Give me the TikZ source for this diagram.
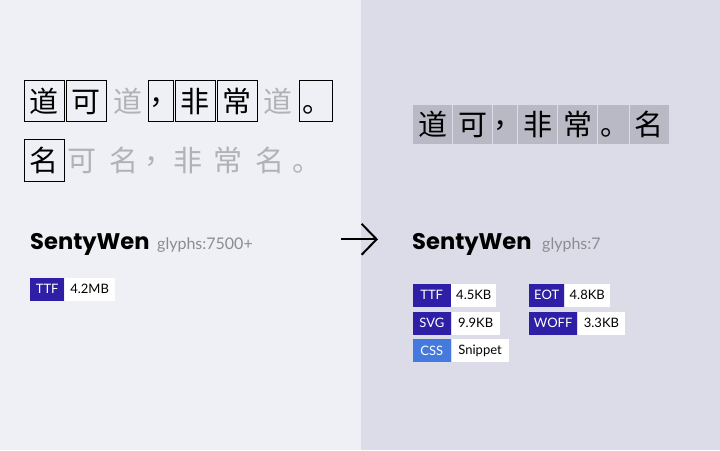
\documentclass[tikz,border=0pt]{standalone}
\usepackage{fontspec}
\setmainfont{Lato}
\newfontfamily\titlefont{Poppins}
\newfontfamily\cjk{Noto Sans CJK SC}
\usetikzlibrary{arrows.meta}
\definecolor{bgL}{HTML}{EFF0F5}
\definecolor{bgR}{HTML}{DCDCE8}
\definecolor{indigo}{HTML}{2E1FA6}
\definecolor{cssblue}{HTML}{4479DD}
\definecolor{cellgrey}{HTML}{B9B9C5}
\definecolor{ghost}{HTML}{B2B2B6}
\definecolor{subgrey}{HTML}{8C8C90}
\newcommand\badgefont{\fontsize{13}{13}\selectfont}
\newcommand\hz[1]{\makebox[0pt]{#1}}
\newcommand\cm{\makebox[0pt]{\kern6pt\raisebox{8pt}{，}}}
\newcommand\pd{\makebox[0pt]{\kern3pt 。}}
\begin{document}
\begin{tikzpicture}[x=1pt,y=-1pt,
  han/.style={font=\cjk\fontsize{29}{29}\selectfont, inner sep=0pt, anchor=center, text height=24pt, text depth=2pt},
  boxed/.style={han, draw=black, line width=0.8pt, minimum height=41pt},
  ghostch/.style={han, text=ghost},
  cell/.style={han, fill=cellgrey, minimum height=39.3pt},
  title/.style={font=\titlefont\bfseries\fontsize{22.6}{22.6}\selectfont, anchor=base west, inner sep=0pt},
  sub/.style={font=\fontsize{16}{16}\selectfont, text=subgrey, anchor=base west, inner sep=0pt},
  tagb/.style={fill=indigo, text=white, font=\badgefont, inner sep=0pt, minimum height=22.7pt, anchor=west},
  tagc/.style={tagb, fill=cssblue},
  tagw/.style={fill=white, text=black, font=\badgefont, inner sep=0pt, minimum height=22.7pt, anchor=west},
]
\useasboundingbox (0,0) rectangle (720,450);
\fill[bgL] (0,0) rectangle (361,450);
\fill[bgR] (361,0) rectangle (720,450);

% left row 1
\node[boxed, minimum width=40pt] (b1) at (44.3,101.2) {\hz{道}};
\node[boxed, minimum width=40pt] (b2) at (86.3,101.2) {\hz{可}};
\node[ghostch] (g1) at (128,101.2) {\hz{道}};
\node[boxed, minimum width=25.4pt] (b3) at (161,101.2) {\cm};
\node[boxed, minimum width=40pt] (b4) at (195,101.2) {\hz{非}};
\node[boxed, minimum width=40pt] (b5) at (237,101.2) {\hz{常}};
\node[ghostch] (g2) at (278,101.2) {\hz{道}};
\node[boxed, minimum width=33pt] (b6) at (315.8,101.2) {\pd};
% left row 2
\node[boxed, minimum width=40pt, minimum height=42pt] (b7) at (44.3,160) {\hz{名}};
\node[ghostch] (g3) at (82,160) {\hz{可}};
\node[ghostch] (g4) at (124,160) {\hz{名}};
\node[ghostch] (g5) at (156,160) {\cm};
\node[ghostch] (g6) at (188,160) {\hz{非}};
\node[ghostch] (g7) at (228,160) {\hz{常}};
\node[ghostch] (g8) at (270,160) {\hz{名}};
\node[ghostch] (g9) at (305,160) {\pd};

% right row
\node[cell, minimum width=38.4pt] (c1) at (432.5,124.7) {\hz{道}};
\node[cell, minimum width=39pt] (c2) at (472.5,124.7) {\hz{可}};
\node[cell, minimum width=23.7pt] (c3) at (504.8,124.7) {\cm};
\node[cell, minimum width=39pt] (c4) at (537.5,124.7) {\hz{非}};
\node[cell, minimum width=39pt] (c5) at (577.5,124.7) {\hz{常}};
\node[cell, minimum width=30.7pt] (c6) at (613.3,124.7) {\pd};
\node[cell, minimum width=38.7pt] (c7) at (649.3,124.7) {\hz{名}};

% titles
\node[title] (t1) at (30,249) {SentyWen};
\node[sub] (s1) at (157,249) {glyphs:7500+};
\node[title] (t2) at (412,249) {SentyWen};
\node[sub] (s2) at (542,249) {glyphs:7};

% arrow
\coordinate (a1) at (341,239.3);
\coordinate (a2) at (378,239.3);
\draw[line width=2pt, -{Straight Barb[length=15pt,width=31pt,line width=2pt]}] (a1) -- (a2);

% badges left
\node[tagb, minimum width=34pt] (l1) at (30,289.3) {TTF};
\node[tagw, minimum width=50pt] (l1v) at (l1.east) {4.2MB};

% badges right
\node[tagb, minimum width=38.4pt] (r1) at (412.3,295.3) {TTF};
\node[tagw, minimum width=45pt] (r1v) at (r1.east) {4.5KB};
\node[tagb, minimum width=38.7pt] (r2) at (412.3,323.3) {SVG};
\node[tagw, minimum width=48pt] (r2v) at (r2.east) {9.9KB};
\node[tagc, minimum width=38.7pt] (r3) at (412.3,350.5) {CSS};
\node[tagw, minimum width=57pt] (r3v) at (r3.east) {Snippet};
\node[tagb, minimum width=35pt] (r4) at (529,295.3) {EOT};
\node[tagw, minimum width=45.3pt] (r4v) at (r4.east) {4.8KB};
\node[tagb, minimum width=48pt] (r5) at (529,323.3) {WOFF};
\node[tagw, minimum width=47.7pt] (r5v) at (r5.east) {3.3KB};
\end{tikzpicture}
\end{document}
